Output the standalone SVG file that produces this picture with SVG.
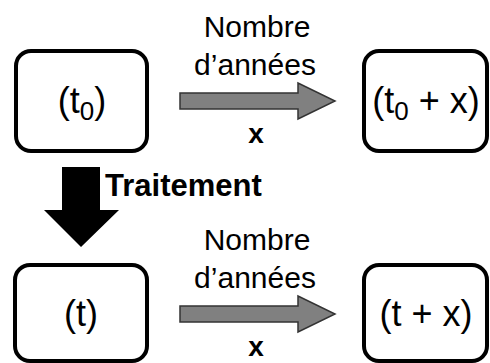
<svg xmlns="http://www.w3.org/2000/svg" width="490" height="363" viewBox="0 0 490 363">
<style>
.box{fill:#fff;stroke:#000;stroke-width:4}
.bt{font-family:"Liberation Sans",Arial,sans-serif;font-size:36px;fill:#000;text-anchor:middle}
.lbl{font-family:"Liberation Sans",Arial,sans-serif;font-size:30px;fill:#000;text-anchor:middle}
.xb{font-family:"Liberation Sans",Arial,sans-serif;font-size:28px;font-weight:bold;fill:#000;text-anchor:middle}
.tr{font-family:"Liberation Sans",Arial,sans-serif;font-size:31px;font-weight:bold;fill:#000}
.ga{fill:#808080;stroke:#333;stroke-width:1.5}
.sub{font-size:26px}
</style>
<rect width="490" height="363" fill="#fff"/>
<g id="t0">
<rect class="box" x="16" y="51" width="131" height="100" rx="15"/>
<text class="bt" x="82" y="113">(t<tspan class="sub" dy="7">0</tspan><tspan dy="-7">)</tspan></text>
</g>
<g id="t0x">
<rect class="box" x="364" y="51" width="123" height="100" rx="15"/>
<text class="bt" x="426" y="113">(t<tspan class="sub" dy="7">0</tspan><tspan dy="-7"> + x)</tspan></text>
</g>
<g id="t">
<rect class="box" x="15" y="265" width="132" height="96" rx="15"/>
<text class="bt" x="81" y="326">(t)</text>
</g>
<g id="tx">
<rect class="box" x="364" y="265" width="123" height="96" rx="15"/>
<text class="bt" x="426" y="326">(t + x)</text>
</g>
<g id="connectors">
<polygon class="ga" points="180,93 298,93 298,83 335,101 298,119 298,109 180,109"/>
<text class="lbl" x="257" y="37">Nombre</text>
<text class="lbl" x="255" y="75">d’années</text>
<text class="xb" x="256" y="143">x</text>
<polygon class="ga" points="180,306 298,306 298,296 335,314 298,332 298,322 180,322"/>
<text class="lbl" x="257" y="250">Nombre</text>
<text class="lbl" x="255" y="288">d’années</text>
<text class="xb" x="256" y="356">x</text>
<polygon fill="#000" points="62,167 100,167 100,210 119,210 81,247 44,210 62,210"/>
<text class="tr" x="105" y="196">Traitement</text>
</g>
</svg>
